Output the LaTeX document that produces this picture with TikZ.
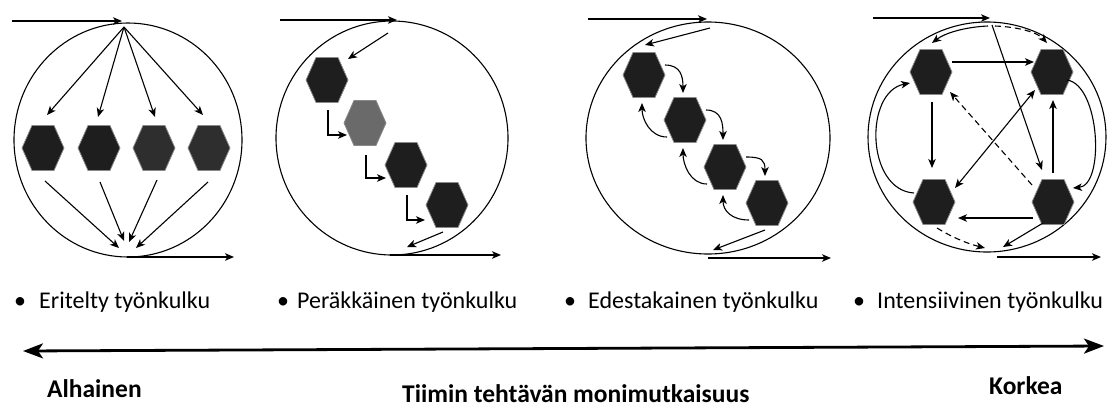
\documentclass[tikz,border=0pt]{standalone}
\usepackage{fontspec}
\setmainfont{Carlito}
\usetikzlibrary{arrows.meta,calc}
\definecolor{hexdark}{HTML}{1E1E1E}
\definecolor{hexmid}{HTML}{2E2E2E}
\definecolor{hexgrey}{HTML}{6A6A6A}
\definecolor{hexedge}{HTML}{8A8A8A}
\tikzset{
  hexbox/.style={minimum width=42pt, minimum height=45pt, inner sep=0pt, outer sep=0pt},
  ring/.style={line width=1.1pt},
  arr/.style={line width=1.1pt, -{Stealth[length=9pt,width=7.5pt,inset=2.5pt]}},
  dblarr/.style={line width=1.1pt, {Stealth[length=9pt,width=7.5pt,inset=2.5pt]}-{Stealth[length=9pt,width=7.5pt,inset=2.5pt]}},
  dasharr/.style={arr, dash pattern=on 6pt off 4pt},
  bigarr/.style={line width=2.8pt, {Stealth[length=20pt,width=15pt,inset=5pt]}-{Stealth[length=20pt,width=15pt,inset=5pt]}},
  lab/.style={anchor=base west, inner sep=0pt, font=\fontsize{24}{28}\selectfont},
  bul/.style={anchor=base, inner sep=0pt, font=\fontsize{24}{28}\selectfont},
  blab/.style={anchor=base west, inner sep=0pt, font=\fontsize{25.5}{30}\selectfont\bfseries},
}
\newcommand\hexa[4]{%
  \node[hexbox] (#1) at (#2,#3) {};
  \filldraw[fill=#4, draw=hexedge, line width=0.8pt]
    (#1.west) -- ([xshift=10pt]#1.north west) -- ([xshift=-10pt]#1.north east)
    -- (#1.east) -- ([xshift=-10pt]#1.south east) -- ([xshift=10pt]#1.south west) -- cycle;}
\begin{document}
\begin{tikzpicture}[x=1pt, y=-1pt]
\useasboundingbox (0,0) rectangle (1114,408);
\fill[white] (0,0) rectangle (1114,408);

% ---------------- Circle 1: Eritelty
\draw[ring] (128,140) ellipse [x radius=114, y radius=117];
\coordinate (in1a) at (12,21);
\coordinate (in1b) at (122,21);
\coordinate (f1) at (124,27);
\coordinate (m1) at (127,250);
\coordinate (out1a) at (127,257);
\coordinate (out1b) at (234,257);
\draw[arr] (in1a) -- (in1b);
\hexa{a1}{43}{148}{hexdark}
\hexa{a2}{99}{148}{hexdark}
\hexa{a3}{154}{148}{hexmid}
\hexa{a4}{209}{148}{hexmid}
\draw[arr] (f1) -- ($(a1)+(4,-33)$);
\draw[arr] (f1) -- ($(a2)+(-1,-31)$);
\draw[arr] (f1) -- ($(a3)+(1,-31)$);
\draw[arr] (f1) -- ($(a4)+(-6,-33)$);
\draw[arr] ($(a1)+(2,33)$) -- ($(m1)+(-8,-2)$);
\draw[arr] ($(a2)+(1,34)$) -- ($(m1)+(-3,-9)$);
\draw[arr] ($(a3)+(3,32)$) -- ($(m1)+(2,-8)$);
\draw[arr] ($(a4)+(-1,34)$) -- ($(m1)+(9,-2)$);
\draw[arr] (out1a) -- (out1b);

% ---------------- Circle 2: Peräkkäinen
\draw[ring] (392,138) ellipse [x radius=116, y radius=117];
\coordinate (in2a) at (280,20);
\coordinate (in2b) at (397,20);
\coordinate (s2) at (388,33);
\coordinate (out2a) at (390,255);
\coordinate (out2b) at (501,255);
\draw[arr] (in2a) -- (in2b);
\hexa{b1}{327}{80}{hexdark}
\hexa{b2}{365}{123}{hexgrey}
\hexa{b3}{406}{165}{hexdark}
\hexa{b4}{447}{205}{hexdark}
\draw[arr] (s2) -- ($(b1)+(21,-21)$);
\draw[arr] ($(b1)+(1,30)$) |- ($(b2)+(-18,12)$);
\draw[arr] ($(b2)+(1,32)$) |- ($(b3)+(-20,13)$);
\draw[arr] ($(b3)+(1,30)$) |- ($(b4)+(-22,15)$);
\draw[arr] ($(b4)+(-4,27)$) -- ($(out2a)+(17,-8)$);
\draw[arr] (out2a) -- (out2b);

% ---------------- Circle 3: Edestakainen
\draw[ring] (708,138) ellipse [x radius=122, y radius=116];
\coordinate (in3a) at (588,19);
\coordinate (in3b) at (707,19);
\coordinate (s3) at (710,28);
\coordinate (out3a) at (708,258);
\coordinate (out3b) at (831,258);
\draw[arr] (in3a) -- (in3b);
\hexa{c1}{644}{75}{hexdark}
\hexa{c2}{685}{120}{hexdark}
\hexa{c3}{725}{167}{hexdark}
\hexa{c4}{767}{203}{hexdark}
\draw[arr] (s3) -- ($(c1)+(1,-30)$);
\foreach \p/\q in {c1/c2, c2/c3, c3/c4}{
  \draw[arr] ($(\p)+(21,-10)$) .. controls ($(\p)+(37,-10)$) and ($(\q)+(-2,-43)$) .. ($(\q)+(-2,-27)$);
  \draw[arr] ($(\q)+(-18,17)$) .. controls ($(\q)+(-35,17)$) and ($(\p)+(-2,44)$) .. ($(\p)+(-2,28)$);
}
\draw[arr] ($(c4)+(-2,27)$) -- ($(out3a)+(5,-8)$);
\draw[arr] (out3a) -- (out3b);

% ---------------- Circle 4: Intensiivinen
\draw[ring] (987,137) ellipse [x radius=119, y radius=115];
\coordinate (in4a) at (873,18);
\coordinate (in4b) at (990,18);
\coordinate (t4) at (992,25);
\coordinate (out4a) at (997,257);
\coordinate (out4b) at (1101,257);
\draw[arr] (in4a) -- (in4b);
\hexa{d1}{931}{72}{hexdark}
\hexa{d2}{1052}{72}{hexdark}
\hexa{d3}{934}{202}{hexdark}
\hexa{d4}{1053}{202}{hexdark}
\draw[arr] ($(t4)+(-4,1)$) .. controls (965,27) and (945,33) .. ($(d1)+(1,-29)$);
\draw[dasharr] ($(t4)+(3,1)$) .. controls (1020,27) and (1038,33) .. ($(d2)+(-5,-29)$);
\draw[arr] (t4) -- ($(d4)+(-11,-32)$);
\draw[arr] ($(d1)+(21,-10)$) -- ($(d2)+(-18,-10)$);
\draw[arr] ($(d1)+(1,30)$) -- ($(d3)+(-2,-34)$);
\draw[arr] ($(d4)+(0,-29)$) -- ($(d2)+(1,28)$);
\draw[arr] ($(d4)+(-20,16)$) -- ($(d3)+(24,16)$);
\draw[dblarr] ($(d2)+(-17,18)$) -- ($(d3)+(21,-14)$);
\draw[dasharr] ($(d4)+(-21,-17)$) -- ($(d1)+(19,20)$);
\draw[arr] ($(d3)+(-20,-9)$) .. controls (866,190) and (864,92) .. ($(d1)+(-21,11)$);
\draw[arr] ($(d2)+(15,8)$) .. controls (1100,85) and (1105,185) .. ($(d4)+(20,-14)$);
\draw[dasharr] ($(d3)+(3,26)$) .. controls (950,236) and (965,243) .. ($(out4a)+(-12,-9)$);
\draw[arr] ($(d4)+(-10,21)$) -- ($(out4a)+(6,-10)$);
\draw[arr] (out4a) -- (out4b);

% ---------------- Labels
\node[bul] (p1) at (20,308) {•};
\node[lab] (l1) at (39,308) {Eritelty työnkulku};
\node[bul] (p2) at (283,308) {•};
\node[lab] (l2) at (297,308) {Peräkkäinen työnkulku};
\node[bul] (p3) at (570,308) {•};
\node[lab] (l3) at (588,308) {Edestakainen työnkulku};
\node[bul] (p4) at (859,308) {•};
\node[lab] (l4) at (877,308) {Intensiivinen työnkulku};

% ---------------- Complexity axis
\coordinate (axl) at (23,351);
\coordinate (axr) at (1104,346);
\draw[bigarr] (axl) -- (axr);
\node[blab] (low) at (47,397) {Alhainen};
\node[blab] (mid) at (402,402) {Tiimin tehtävän monimutkaisuus};
\node[blab] (high) at (989,394) {Korkea};
\end{tikzpicture}
\end{document}
